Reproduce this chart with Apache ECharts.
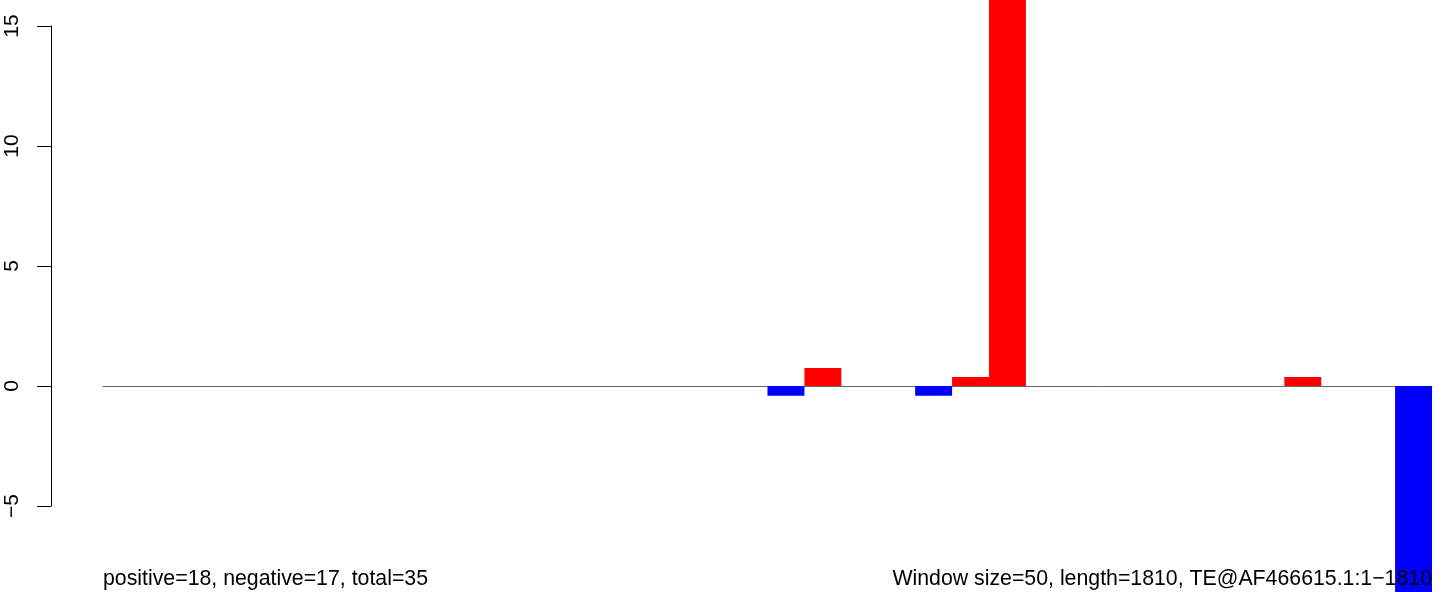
<!DOCTYPE html>
<html>
<head>
<meta charset="utf-8">
<script src="https://cdn.jsdelivr.net/npm/echarts@6/dist/echarts.min.js"></script>
<style>html,body{margin:0;padding:0;background:#fff;}#c{width:1444px;height:592px;}</style>
</head>
<body>
<div id="c"></div>
<script>
// 36 windows of size 50 over length 1810
var windows = [];
for (var k = 1; k <= 36; k++) windows.push('W' + k);
var values = [0,0,0,0,0,0,0,0,0,0,0,0,0,0,0,0,0,0,-0.41,0.75,0,0,-0.41,0.38,20,0,0,0,0,0,0,0,0.38,0,0,-10];
var yTicks = [-5, 0, 5, 10, 15];
var leftNote = 'positive=18, negative=17, total=35';
var rightNote = 'Window size=50, length=1810, TE@AF466615.1:1\u22121810';

var pxPerUnit = 24, zeroY = 386, H = 592;
var chart = echarts.init(document.getElementById('c'), null, {renderer: 'canvas'});
var font = '"Liberation Sans", Arial, sans-serif';
chart.setOption({
  animation: false,
  backgroundColor: '#ffffff',
  grid: [
    {left: 103, right: 12, top: 0, bottom: 0},
    {left: 51, width: 10, top: zeroY - yTicks[yTicks.length-1]*pxPerUnit, height: (yTicks[yTicks.length-1]-yTicks[0])*pxPerUnit}
  ],
  xAxis: [
    {type: 'category', gridIndex: 0, data: windows, boundaryGap: true,
     axisLine: {show: true, onZero: true, lineStyle: {color: '#666666', width: 1}},
     axisTick: {show: false}, axisLabel: {show: false}, splitLine: {show: false}},
    {type: 'value', gridIndex: 1, show: false}
  ],
  yAxis: [
    {type: 'value', gridIndex: 0, min: -(H - zeroY)/pxPerUnit, max: zeroY/pxPerUnit, show: false, splitLine: {show: false}},
    {type: 'value', gridIndex: 1, min: yTicks[0], max: yTicks[yTicks.length-1], interval: 5, position: 'left',
     axisLine: {show: true, lineStyle: {color: '#000', width: 1}},
     axisTick: {show: true, length: 14, inside: false, lineStyle: {color: '#000', width: 1}},
     axisLabel: {show: true, rotate: 90, margin: 28, color: '#000', fontSize: 21, fontFamily: font,
       formatter: function (v) { return String(v).replace('-', '\u2212'); }},
     splitLine: {show: false}}
  ],
  series: [{
    type: 'bar', xAxisIndex: 0, yAxisIndex: 0,
    barWidth: '100%', barCategoryGap: '0%',
    data: values.map(function (v) { return {value: v, itemStyle: {color: v < 0 ? '#0000ff' : '#ff0000'}}; }),
    z: 1
  }],
  graphic: [
    {type: 'text', left: 103, top: 569, z: 100, style: {text: leftNote, fill: '#000', font: '21.3px ' + font}},
    {type: 'text', right: 12, top: 569, z: 100, style: {text: rightNote, fill: '#000', font: '21.3px ' + font}}
  ]
});
</script>
</body>
</html>
